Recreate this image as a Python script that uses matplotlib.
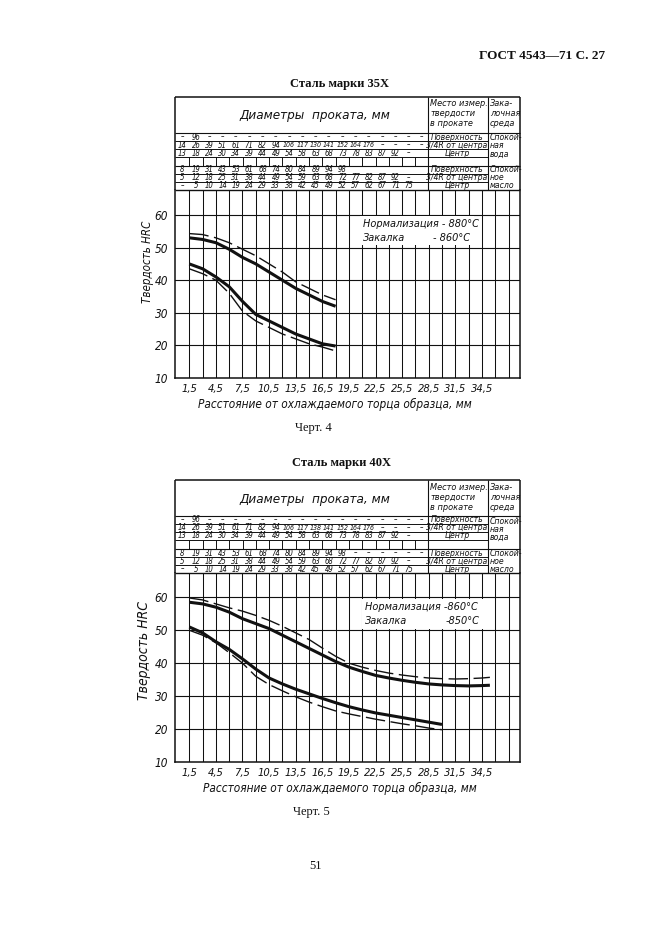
import matplotlib
matplotlib.use("Agg")
import matplotlib.pyplot as plt
from matplotlib import font_manager as fm
from matplotlib.patches import Rectangle

W, H = 661, 936

# ------------------------------------------------------------------ data
distance_ticks = [1.5, 4.5, 7.5, 10.5, 13.5, 16.5, 19.5, 22.5, 25.5, 28.5, 31.5, 34.5]
distance_labels = ["1,5", "4,5", "7,5", "10,5", "13,5", "16,5", "19,5", "22,5",
                   "25,5", "28,5", "31,5", "34,5"]
hrc_ticks = [10, 20, 30, 40, 50, 60]
hrc_labels = ["10", "20", "30", "40", "50", "60"]

# Черт. 4 — сталь 35Х
dist_35x = [1.5, 3, 4.5, 6, 7.5, 9, 10.5, 12, 13.5, 15, 16.5, 18]
hrc_35x_upper_solid = [53, 52.5, 51.5, 49.5, 47, 45, 42.5, 40, 37.5, 35.5, 33.5, 32]
hrc_35x_upper_dashed = [54.3, 54, 53, 51.5, 49.5, 47.5, 45, 42.5, 39.5, 37.5, 35.5, 34]
hrc_35x_lower_solid = [45, 43.5, 41, 38, 33.5, 29.5, 27.5, 25.5, 23.5, 22, 20.5, 19.8]
hrc_35x_lower_dashed = [43.5, 42, 40, 36, 30.5, 27.5, 25.5, 23.5, 22, 20.5, 19.5, 18.3]

# Черт. 5 — сталь 40Х
dist_40x_upper = [1.5, 3, 4.5, 6, 7.5, 9, 10.5, 12, 13.5, 15, 16.5, 18, 19.5, 21,
                  22.5, 24, 25.5, 27, 28.5, 30, 31.5, 33, 34.5, 35.4]
hrc_40x_upper_solid = [58.5, 58, 57, 55.5, 53.5, 52, 50.5, 48.5, 46.5, 44.5, 42.5, 40.5,
                       38.8, 37.5, 36.3, 35.5, 34.8, 34.2, 33.7, 33.4, 33.2, 33.1, 33.2, 33.3]
hrc_40x_upper_dashed = [59.8, 59.2, 58, 56.8, 55.8, 54.5, 53, 51.2, 49.2, 47.2, 44.6, 42.1,
                        40, 38.8, 37.8, 37, 36.4, 35.9, 35.5, 35.3, 35.2, 35.3, 35.5, 35.7]
dist_40x_lower = [1.5, 3, 4.5, 6, 7.5, 9, 10.5, 12, 13.5, 15, 16.5, 18, 19.5, 21,
                  22.5, 24, 25.5, 27, 28.5, 30]
hrc_40x_lower_solid = [51, 49.2, 46.5, 44.2, 41.3, 38.2, 35.5, 33.7, 32.1, 30.7, 29.3, 28,
                       26.8, 25.8, 24.9, 24.2, 23.5, 22.8, 22.1, 21.4]
hrc_40x_lower_dashed = [50, 48.5, 46.2, 43.2, 40, 36, 33.5, 31.6, 29.8, 28.2, 26.8, 25.5,
                        24.6, 23.8, 23, 22.3, 21.6, 21, 20.3, 19.8]

# Diameter table rows (water: surface / 3/4R / centre ; oil: surface / 3/4R / centre)
table_35x = [
    "– 96 – – – – – – – – – – – – – – – – –".split(),
    "14 26 39 51 61 71 82 94 106 117 130 141 152 164 176 – – – –".split(),
    "13 18 24 30 34 39 44 49 54 58 63 68 73 78 83 87 92 –".split(),
    "8 19 31 43 53 61 68 74 80 84 89 94 98".split(),
    "5 12 18 25 31 38 44 49 54 59 63 68 72 77 82 87 92 –".split(),
    "– 5 10 14 19 24 29 33 38 42 45 49 52 57 62 67 71 75".split(),
]
table_40x = [
    "– 96 – – – – – – – – – – – – – – – – –".split(),
    "14 26 39 51 61 71 82 94 106 117 138 141 152 164 176 – – – –".split(),
    "13 18 24 30 34 39 44 49 54 58 63 68 73 78 83 87 92 –".split(),
    "8 19 31 43 53 61 68 74 80 84 89 94 98 – – – – – –".split(),
    "5 12 18 25 31 38 44 49 54 59 63 68 72 77 82 87 92 –".split(),
    "– 5 10 14 19 24 29 33 38 42 45 49 52 57 62 67 71 75".split(),
]
site_labels = ["Поверхность", "3/4R от центра", "Центр"]
medium_water = ["Спокой-", "ная", "вода"]
medium_oil = ["Спокой-", "ное", "масло"]
heat_35x = ("Нормализация - 880°C", "Закалка", "- 860°C")
heat_40x = ("Нормализация -860°C", "Закалка", "-850°C")

# ------------------------------------------------------------------ fonts
ttf = fm.fontManager.ttflist


def has(name, stretch=None):
    return any(f.name == name and (stretch is None or f.stretch == stretch) for f in ttf)


if has("Liberation Sans Narrow"):
    DRAFT = dict(family="Liberation Sans Narrow", style="italic")
elif has("DejaVu Sans", "condensed"):
    DRAFT = dict(family="DejaVu Sans", stretch="condensed", style="italic")
elif has("Noto Sans", "condensed"):
    DRAFT = dict(family="Noto Sans", stretch="condensed", style="italic")
elif has("Roboto Condensed"):
    DRAFT = dict(family="Roboto Condensed", style="italic")
else:
    DRAFT = dict(family="DejaVu Sans", style="italic")
SERIF = dict(family=["Liberation Serif", "DejaVu Serif"])

INK = "#111111"

# ------------------------------------------------------------------ geometry (pixels)
FL, FR = 175, 520          # frame left/right
SITE_X, MED_X = 428, 488   # table column separators
X15 = 189.3                # pixel of 1.5 mm
PX_PER_MM = 13.3 / 1.5


def mm2px(mm):
    return X15 + (mm - 1.5) * PX_PER_MM


fig = plt.figure(figsize=(W / 100, H / 100), dpi=100)
fig.patch.set_facecolor("white")
page = fig.add_axes([0, 0, 1, 1])
page.set_xlim(0, W)
page.set_ylim(H, 0)
page.axis("off")


def pline(xs, ys, lw=0.7):
    page.plot(xs, ys, color=INK, lw=lw, solid_capstyle="butt")


def draw_table(T, rows):
    pline([FL, FR], [T, T], 1.1)
    pline([FL, FL], [T, T + 93], 1.1)
    pline([FR, FR], [T, T + 93], 1.1)
    pline([FL, FR], [T + 36, T + 36], 0.8)
    pline([SITE_X, SITE_X], [T, T + 93], 0.8)
    pline([MED_X, MED_X], [T, T + 93], 0.8)
    for dy in (44, 52, 60, 77, 85):
        pline([FL, MED_X], [T + dy, T + dy], 0.7)
    pline([FL, FR], [T + 69, T + 69], 0.8)
    pline([FL, FR], [T + 93, T + 93], 1.0)
    for k in range(1, 19):
        x = mm2px(1.5 * k)
        pline([x, x], [T + 60, T + 69], 0.7)
    page.text(315, T + 19, "Диаметры  проката, мм", fontsize=9.6,
              ha="center", va="center", color=INK, **DRAFT)
    for i, s in enumerate(["Место измер.", "твердости", "в прокате"]):
        page.text(430, T + 7 + 10 * i, s, fontsize=6.6, ha="left", va="center",
                  color=INK, **DRAFT)
    for i, s in enumerate(["Зака-", "лочная", "среда"]):
        page.text(490, T + 7 + 10 * i, s, fontsize=6.6, ha="left", va="center",
                  color=INK, **DRAFT)
    for i, s in enumerate(medium_water):
        page.text(490, T + 41 + 8 * i, s, fontsize=6.2, ha="left", va="center",
                  color=INK, **DRAFT)
    for i, s in enumerate(medium_oil):
        page.text(490, T + 73 + 8 * i, s, fontsize=6.2, ha="left", va="center",
                  color=INK, **DRAFT)
    row_y = [T + 40, T + 48, T + 56, T + 73, T + 81, T + 89]
    for r, (y, vals) in enumerate(zip(row_y, rows)):
        page.text(457, y, site_labels[r % 3], fontsize=6.2, ha="center", va="center",
                  color=INK, **DRAFT)
        for j, v in enumerate(vals):
            left = FL if j == 0 else mm2px(1.5 * j)
            right = mm2px(1.5 * (j + 1)) if j < 18 else SITE_X
            page.text((left + right) / 2, y, v, fontsize=5.6 if len(v) < 3 else 5.0,
                      ha="center", va="center", color=INK, **DRAFT)


def style_labels(labels, size):
    for lab in labels:
        lab.set_fontsize(size)
        lab.set_fontstyle("italic")
        lab.set_fontfamily(DRAFT["family"])
        if "stretch" in DRAFT:
            lab.set_fontstretch(DRAFT["stretch"])


def draw_chart(top_px, bottom_px, y60_px, y10_px, curves, heat, box_px,
               ylab_xy, xlab_xy, ylab_size):
    upp = 50.0 / (y10_px - y60_px)
    ymax = 60 + (y60_px - top_px) * upp
    ymin = 10 - (bottom_px - y10_px) * upp
    ax = fig.add_axes([FL / W, 1 - bottom_px / H, (FR - FL) / W, (bottom_px - top_px) / H])
    ax.set_facecolor("none")
    ax.set_xlim(1.5 - (X15 - FL) / PX_PER_MM, 1.5 + (FR - X15) / PX_PER_MM)
    ax.set_ylim(ymin, ymax)
    for s in ("left", "right", "bottom"):
        ax.spines[s].set_linewidth(1.1)
        ax.spines[s].set_color(INK)
    ax.spines["top"].set_visible(False)
    for k in range(1, 26):
        ax.axvline(1.5 * k, color=INK, lw=0.75, zorder=1)
    for yv in hrc_ticks[1:]:
        ax.axhline(yv, color=INK, lw=0.8, zorder=1)
    ax.set_xticks(distance_ticks, distance_labels)
    ax.set_yticks(hrc_ticks, hrc_labels)
    ax.tick_params(length=0, colors=INK)
    ax.tick_params(axis="x", pad=4)
    ax.tick_params(axis="y", pad=5)
    style_labels(ax.get_xticklabels(), 8)
    style_labels(ax.get_yticklabels(), 8.5)
    x0, y0, x1, y1 = box_px
    ax.add_patch(Rectangle((x0, y0), x1 - x0, y1 - y0, transform=page.transData,
                           facecolor="white", edgecolor="none", zorder=2))
    ax.text(x0 + 3, y0 + 8, heat[0], transform=page.transData, fontsize=7.8,
            ha="left", va="center", color=INK, zorder=3, **DRAFT)
    ax.text(x0 + 3, y0 + 22, heat[1], transform=page.transData, fontsize=7.8,
            ha="left", va="center", color=INK, zorder=3, **DRAFT)
    ax.text(x1 - 4, y0 + 22, heat[2], transform=page.transData, fontsize=7.8,
            ha="right", va="center", color=INK, zorder=3, **DRAFT)
    for xs, ys, style in curves:
        if style == "solid":
            ax.plot(xs, ys, color=INK, lw=2.2, solid_capstyle="butt", zorder=4)
        else:
            ax.plot(xs, ys, color=INK, lw=1.0, ls=(0, (14, 4)), zorder=4)
    page.text(ylab_xy[0], ylab_xy[1], "Твердость HRC", rotation=90, fontsize=ylab_size,
              ha="center", va="center", color=INK, **DRAFT)
    page.text(xlab_xy[0], xlab_xy[1], "Расстояние от охлаждаемого торца образца, мм",
              fontsize=8.5, ha="center", va="center", color=INK, **DRAFT)
    return ax


# page texts
page.text(542, 56, "ГОСТ 4543—71 С. 27", fontsize=9.5, weight="bold", ha="center",
          va="center", color=INK, **SERIF)
page.text(340, 84, "Сталь марки 35Х", fontsize=9, weight="bold", ha="center",
          va="center", color=INK, **SERIF)
page.text(313, 428, "Черт. 4", fontsize=9, ha="center", va="center", color=INK, **SERIF)
page.text(341, 463, "Сталь марки 40Х", fontsize=9, weight="bold", ha="center",
          va="center", color=INK, **SERIF)
page.text(311, 812, "Черт. 5", fontsize=9, ha="center", va="center", color=INK, **SERIF)
page.text(316, 866, "51", fontsize=9, ha="center", va="center", color=INK, **SERIF)

# Chart 4
draw_table(97, table_35x)
draw_chart(190, 378, 215, 378,
           [(dist_35x, hrc_35x_upper_solid, "solid"),
            (dist_35x, hrc_35x_upper_dashed, "dashed"),
            (dist_35x, hrc_35x_lower_solid, "solid"),
            (dist_35x, hrc_35x_lower_dashed, "dashed")],
           heat_35x, (360, 216, 474, 245), (148, 262), (335, 404), 8.3)

# Chart 5
draw_table(480, table_40x)
draw_chart(573, 762, 597.3, 762,
           [(dist_40x_upper, hrc_40x_upper_solid, "solid"),
            (dist_40x_upper, hrc_40x_upper_dashed, "dashed"),
            (dist_40x_lower, hrc_40x_lower_solid, "solid"),
            (dist_40x_lower, hrc_40x_lower_dashed, "dashed")],
           heat_40x, (362, 599, 484, 629), (144, 650), (340, 788), 10)

fig.savefig("out.png", dpi=100, facecolor="white")
